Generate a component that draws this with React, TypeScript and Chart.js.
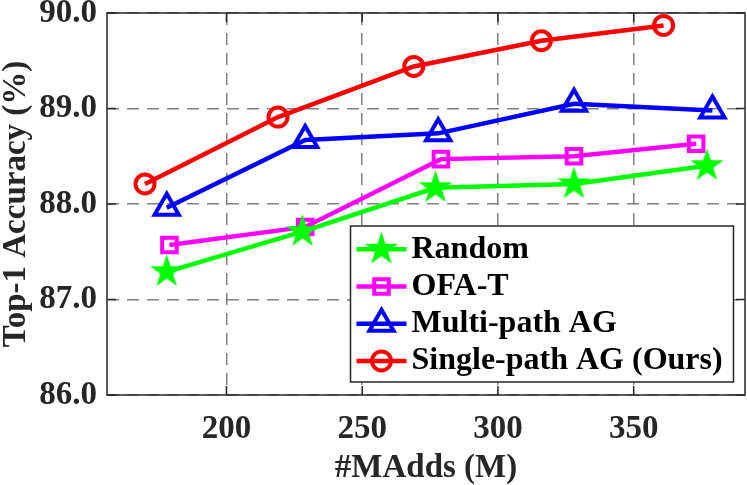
import React, { useEffect, useRef } from 'react';
import { Chart, registerables } from 'chart.js';
import { drawPoint } from 'chart.js/helpers';

Chart.register(...registerables);

// series names, in legend order
const seriesNames = ['Random', 'OFA-T', 'Multi-path AG', 'Single-path AG (Ours)'];

// MAdds (x) and Top-1 accuracy (y) per method
const randomX = [178, 228, 277, 328, 377];
const randomY = [87.29, 87.71, 88.17, 88.21, 88.4];
const ofaX = [179, 229, 279, 328, 373];
const ofaY = [87.57, 87.76, 88.47, 88.5, 88.63];
const multiX = [178, 229, 278, 328, 379];
const multiY = [87.96, 88.67, 88.74, 89.05, 88.98];
const singleX = [170, 219, 269, 316, 361];
const singleY = [88.21, 88.91, 89.44, 89.71, 89.87];

// axis ticks
const xTicks = [200, 250, 300, 350];
const yTicks = [86, 87, 88, 89, 90];

const FONT = '"Liberation Serif", "Times New Roman", serif';
const AXIS_COLOR = '#262626';

const makeStar = (color: string, outer: number) => {
  const size = Math.ceil(outer * 2 + 2);
  const c = document.createElement('canvas');
  c.width = size;
  c.height = size;
  const ctx = c.getContext('2d')!;
  const cx = size / 2;
  const cy = size / 2;
  const inner = outer * 0.382;
  ctx.beginPath();
  for (let i = 0; i < 10; i++) {
    const r = i % 2 === 0 ? outer : inner;
    const a = -Math.PI / 2 + (i * Math.PI) / 5;
    const px = cx + r * Math.cos(a);
    const py = cy + r * Math.sin(a);
    if (i === 0) ctx.moveTo(px, py);
    else ctx.lineTo(px, py);
  }
  ctx.closePath();
  ctx.fillStyle = color;
  ctx.fill();
  return c;
};

const toPoints = (xs: number[], ys: number[]) => xs.map((x, i) => ({ x, y: ys[i] }));

// frame, inward ticks and the boxed legend, MATLAB style
const framePlugin = {
  id: 'frameAndLegend',
  afterDraw(chart: any) {
    const ctx: CanvasRenderingContext2D = chart.ctx;
    const { left, right, top, bottom } = chart.chartArea;
    const xs = chart.scales.x;
    const ys = chart.scales.y;
    ctx.save();
    ctx.strokeStyle = AXIS_COLOR;
    ctx.lineWidth = 1.5;
    ctx.setLineDash([]);
    ctx.beginPath();
    xTicks.forEach(v => {
      const px = xs.getPixelForValue(v);
      ctx.moveTo(px, bottom);
      ctx.lineTo(px, bottom - 9);
      ctx.moveTo(px, top);
      ctx.lineTo(px, top + 9);
    });
    yTicks.forEach(v => {
      const py = ys.getPixelForValue(v);
      ctx.moveTo(left, py);
      ctx.lineTo(left + 9, py);
      ctx.moveTo(right, py);
      ctx.lineTo(right - 9, py);
    });
    ctx.stroke();
    ctx.strokeRect(left, top, right - left, bottom - top);

    // legend box
    const bx = 350.5;
    const by = 226;
    const bw = 383;
    const bh = 156;
    ctx.fillStyle = '#ffffff';
    ctx.fillRect(bx, by, bw, bh);
    ctx.strokeStyle = AXIS_COLOR;
    ctx.lineWidth = 1.5;
    ctx.strokeRect(bx, by, bw, bh);

    const rowY0 = 249.3;
    const rowStep = 37.2;
    chart.data.datasets.forEach((ds: any, i: number) => {
      const y = rowY0 + i * rowStep;
      ctx.strokeStyle = ds.borderColor;
      ctx.lineWidth = ds.borderWidth;
      ctx.beginPath();
      ctx.moveTo(bx + 6, y);
      ctx.lineTo(bx + 56, y);
      ctx.stroke();
      ctx.fillStyle = ds.pointBackgroundColor;
      ctx.strokeStyle = ds.pointBorderColor;
      ctx.lineWidth = ds.pointBorderWidth;
      drawPoint(ctx, {
        pointStyle: ds.pointStyle,
        radius: ds.pointRadius,
        rotation: 0,
        borderWidth: ds.pointBorderWidth,
      } as any, bx + 31, y);
      ctx.fillStyle = '#000000';
      ctx.font = `bold 32px ${FONT}`;
      ctx.textBaseline = 'middle';
      ctx.textAlign = 'left';
      ctx.fillText(seriesNames[i], bx + 61, y);
    });
    ctx.restore();
  },
};

const App: React.FC = () => {
  const canvasRef = useRef<HTMLCanvasElement | null>(null);

  useEffect(() => {
    if (!canvasRef.current) return;
    const star = makeStar('#00ff00', 17.5);

    const chart = new Chart(canvasRef.current, {
      type: 'line',
      data: {
        datasets: [
          {
            label: seriesNames[0],
            data: toPoints(randomX, randomY),
            borderColor: '#00ff00',
            borderWidth: 4.5,
            pointStyle: star,
            pointRadius: 17.5,
            pointBackgroundColor: '#00ff00',
            pointBorderColor: '#00ff00',
            pointBorderWidth: 0,
          },
          {
            label: seriesNames[1],
            data: toPoints(ofaX, ofaY),
            borderColor: '#ff00ff',
            borderWidth: 4.5,
            pointStyle: 'rect',
            pointRadius: 10.3,
            pointBackgroundColor: 'rgba(0,0,0,0)',
            pointBorderColor: '#ff00ff',
            pointBorderWidth: 4,
          },
          {
            label: seriesNames[2],
            data: toPoints(multiX, multiY),
            borderColor: '#0000ff',
            borderWidth: 4.5,
            pointStyle: 'triangle',
            pointRadius: 14,
            pointBackgroundColor: 'rgba(0,0,0,0)',
            pointBorderColor: '#0000ff',
            pointBorderWidth: 4,
          },
          {
            label: seriesNames[3],
            data: toPoints(singleX, singleY),
            borderColor: '#ff0000',
            borderWidth: 4.5,
            pointStyle: 'circle',
            pointRadius: 9.5,
            pointBackgroundColor: 'rgba(0,0,0,0)',
            pointBorderColor: '#ff0000',
            pointBorderWidth: 4,
          },
        ] as any,
      },
      options: {
        animation: false,
        responsive: false,
        layout: { autoPadding: false, padding: { top: 13, right: 2, left: 0, bottom: 0 } },
        plugins: {
          legend: { display: false },
          tooltip: { enabled: false },
        },
        scales: {
          x: {
            type: 'linear',
            min: 156,
            max: 391,
            afterBuildTicks: (s: any) => {
              s.ticks = xTicks.map(v => ({ value: v }));
            },
            afterFit: (s: any) => {
              s.height = 90;
              s.paddingLeft = 0;
              s.paddingRight = 0;
            },
            grid: { color: '#808080', lineWidth: 1.5, drawTicks: false },
            border: { display: false, dash: [12, 8] },
            ticks: {
              color: AXIS_COLOR,
              font: { family: FONT, size: 33, weight: 'bold' },
              padding: 15,
              maxRotation: 0,
            },
            title: {
              display: true,
              text: '#MAdds (M)',
              color: AXIS_COLOR,
              font: { family: FONT, size: 33, weight: 'bold', lineHeight: 1 },
              padding: 0,
            },
          },
          y: {
            type: 'linear',
            min: 86,
            max: 90,
            afterBuildTicks: (s: any) => {
              s.ticks = yTicks.map(v => ({ value: v }));
            },
            afterFit: (s: any) => {
              s.width = 107;
              s.paddingTop = 0;
              s.paddingBottom = 0;
            },
            grid: { color: '#808080', lineWidth: 1.5, drawTicks: false },
            border: { display: false, dash: [12, 8] },
            ticks: {
              color: AXIS_COLOR,
              font: { family: FONT, size: 33, weight: 'bold' },
              padding: 10,
              callback: (v: any) => Number(v).toFixed(1),
            },
            title: {
              display: true,
              text: 'Top-1 Accuracy (%)',
              color: AXIS_COLOR,
              font: { family: FONT, size: 33, weight: 'bold', lineHeight: 1 },
              padding: 0,
            },
          },
        },
      } as any,
      plugins: [framePlugin],
    });

    return () => chart.destroy();
  }, []);

  return (
    <div style={{ position: 'absolute', left: 0, top: 0, width: 747, height: 485, background: '#fff' }}>
      <canvas ref={canvasRef} width={747} height={485} style={{ display: 'block' }} />
    </div>
  );
};

export default App;
